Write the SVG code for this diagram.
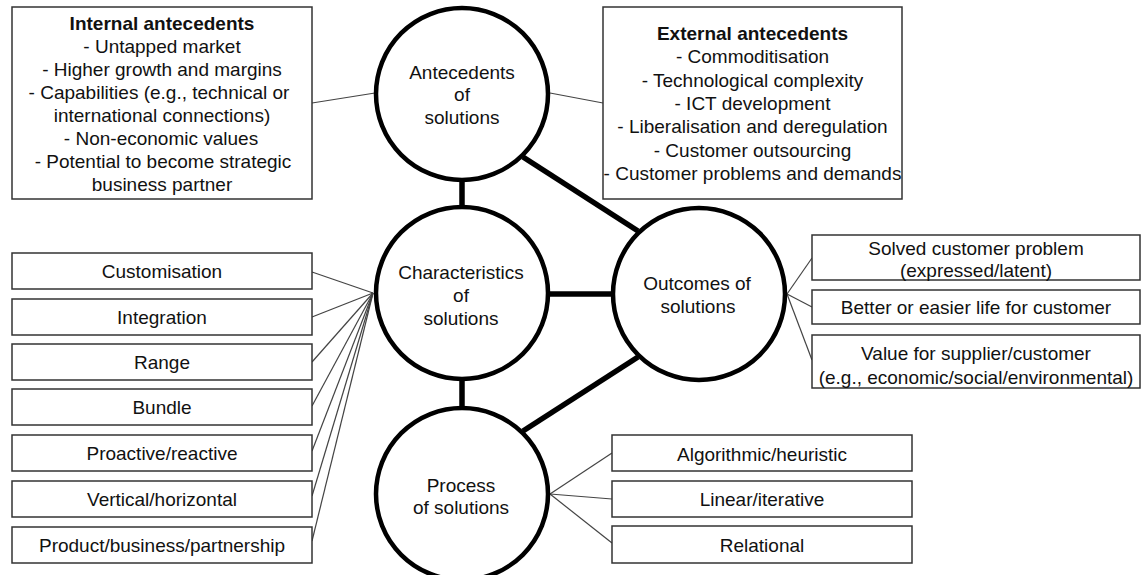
<svg xmlns="http://www.w3.org/2000/svg" width="1147" height="575" viewBox="0 0 1147 575">
  <style>
    text { font-family: "Liberation Sans", Arial, sans-serif; font-size: 19px; fill: #111; text-anchor: middle; }
    .bold { font-weight: bold; }
    .box { fill: #fff; stroke: #333; stroke-width: 1.5; }
    .hub { fill: #fff; stroke: #000; stroke-width: 4.5; }
    .thin { stroke: #444; stroke-width: 1.2; fill: none; }
    .thick { stroke: #000; stroke-width: 5.5; fill: none; }
  </style>
  <rect width="1147" height="575" fill="#fff"/>

  <!-- connectors -->
  <g id="connectors">
    <!-- core links between the four circles -->
    <line class="thick" x1="462" y1="180" x2="462" y2="208"/>
    <line class="thick" x1="462" y1="378" x2="462" y2="408"/>
    <line class="thick" x1="548" y1="294" x2="612" y2="294"/>
    <line class="thick" x1="523" y1="157" x2="638" y2="231"/>
    <line class="thick" x1="523" y1="431" x2="638" y2="357"/>
    <!-- antecedent boxes -->
    <line class="thin" x1="312" y1="103" x2="375" y2="93"/>
    <line class="thin" x1="550" y1="93" x2="603" y2="103"/>
    <!-- characteristic boxes fan into one point -->
    <line class="thin" x1="312" y1="272" x2="373" y2="293"/>
    <line class="thin" x1="312" y1="317" x2="373" y2="293"/>
    <line class="thin" x1="312" y1="362" x2="373" y2="293"/>
    <line class="thin" x1="312" y1="406" x2="373" y2="293"/>
    <line class="thin" x1="312" y1="451" x2="373" y2="293"/>
    <line class="thin" x1="312" y1="496" x2="373" y2="293"/>
    <line class="thin" x1="312" y1="541" x2="373" y2="293"/>
    <!-- outcome boxes -->
    <line class="thin" x1="787" y1="294" x2="812" y2="258"/>
    <line class="thin" x1="787" y1="294" x2="812" y2="307"/>
    <line class="thin" x1="787" y1="294" x2="812" y2="360"/>
    <!-- process boxes -->
    <line class="thin" x1="550" y1="494" x2="612" y2="453"/>
    <line class="thin" x1="550" y1="494" x2="612" y2="499"/>
    <line class="thin" x1="550" y1="494" x2="612" y2="543"/>
  </g>

  <!-- circles -->
  <g id="antecedents">
    <circle class="hub" cx="462" cy="94" r="86"/>
    <text x="462" y="79">Antecedents</text>
    <text x="462" y="101">of</text>
    <text x="462" y="124">solutions</text>
  </g>
  <g id="characteristics">
    <circle class="hub" cx="462" cy="293" r="86"/>
    <text x="461" y="279">Characteristics</text>
    <text x="461" y="302">of</text>
    <text x="461" y="325">solutions</text>
  </g>
  <g id="outcomes">
    <circle class="hub" cx="699" cy="294" r="86"/>
    <text x="697" y="290">Outcomes of</text>
    <text x="698" y="313">solutions</text>
  </g>
  <g id="process">
    <circle class="hub" cx="462" cy="494" r="86"/>
    <text x="461" y="492">Process</text>
    <text x="461" y="514">of solutions</text>
  </g>

  <!-- antecedent lists -->
  <g id="internal-antecedents">
    <rect class="box" x="12" y="7" width="300" height="192"/>
    <text class="bold" x="162" y="29.5">Internal antecedents</text>
    <text x="162" y="52.5">- Untapped market</text>
    <text x="162" y="75.5">- Higher growth and margins</text>
    <text x="159" y="98.5">- Capabilities (e.g., technical or</text>
    <text x="162" y="121.5">international connections)</text>
    <text x="161" y="144.5">- Non-economic values</text>
    <text x="163" y="167.5">- Potential to become strategic</text>
    <text x="162" y="190.5">business partner</text>
  </g>
  <g id="external-antecedents">
    <rect class="box" x="603" y="7" width="299" height="192"/>
    <text class="bold" x="752.5" y="40">External antecedents</text>
    <text x="752.5" y="63.3">- Commoditisation</text>
    <text x="752.5" y="86.6">- Technological complexity</text>
    <text x="752.5" y="110">- ICT development</text>
    <text x="752.5" y="133.3">- Liberalisation and deregulation</text>
    <text x="752.5" y="156.6">- Customer outsourcing</text>
    <text x="752.5" y="180">- Customer problems and demands</text>
  </g>

  <!-- characteristics list -->
  <g id="customisation">
    <rect class="box" x="12" y="253" width="300" height="36"/>
    <text x="162" y="278">Customisation</text>
  </g>
  <g id="integration">
    <rect class="box" x="12" y="299" width="300" height="36"/>
    <text x="162" y="324">Integration</text>
  </g>
  <g id="range">
    <rect class="box" x="12" y="344" width="300" height="36"/>
    <text x="162" y="369">Range</text>
  </g>
  <g id="bundle">
    <rect class="box" x="12" y="389" width="300" height="36"/>
    <text x="162" y="414">Bundle</text>
  </g>
  <g id="proactive-reactive">
    <rect class="box" x="12" y="435" width="300" height="36"/>
    <text x="162" y="460">Proactive/reactive</text>
  </g>
  <g id="vertical-horizontal">
    <rect class="box" x="12" y="481" width="300" height="36"/>
    <text x="162" y="506">Vertical/horizontal</text>
  </g>
  <g id="product-business-partnership">
    <rect class="box" x="12" y="527" width="300" height="36"/>
    <text x="162" y="552">Product/business/partnership</text>
  </g>

  <!-- outcomes list -->
  <g id="solved-problem">
    <rect class="box" x="812" y="235" width="328" height="45"/>
    <text x="976" y="254.5">Solved customer problem</text>
    <text x="976" y="277">(expressed/latent)</text>
  </g>
  <g id="better-life">
    <rect class="box" x="812" y="290" width="328" height="34"/>
    <text x="976" y="314">Better or easier life for customer</text>
  </g>
  <g id="value">
    <rect class="box" x="812" y="335" width="328" height="53"/>
    <text x="976" y="360">Value for supplier/customer</text>
    <text x="976" y="384">(e.g., economic/social/environmental)</text>
  </g>

  <!-- process list -->
  <g id="algorithmic-heuristic">
    <rect class="box" x="612" y="435" width="300" height="36"/>
    <text x="762" y="461">Algorithmic/heuristic</text>
  </g>
  <g id="linear-iterative">
    <rect class="box" x="612" y="481" width="300" height="36"/>
    <text x="762" y="506">Linear/iterative</text>
  </g>
  <g id="relational">
    <rect class="box" x="612" y="526" width="300" height="37"/>
    <text x="762" y="552">Relational</text>
  </g>
</svg>
